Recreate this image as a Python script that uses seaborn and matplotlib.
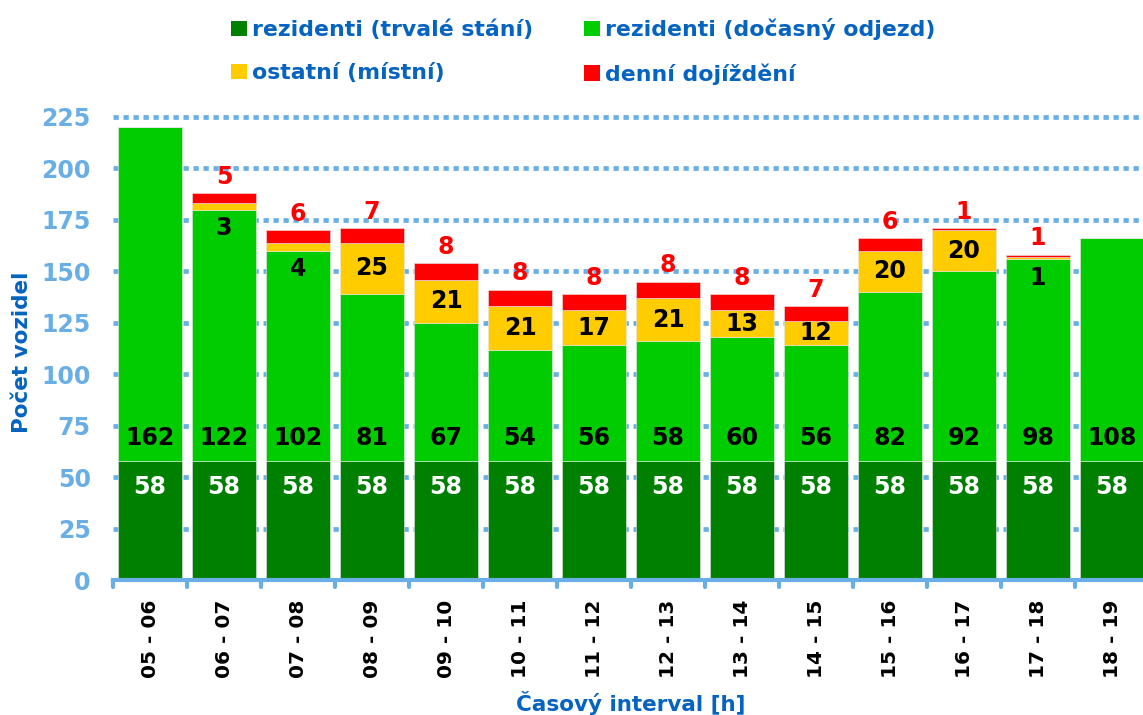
import matplotlib
matplotlib.use("Agg")
import matplotlib.pyplot as plt
import seaborn as sns
import numpy as np
import pandas as pd
from matplotlib.patches import Patch

categories = ["05 - 06", "06 - 07", "07 - 08", "08 - 09", "09 - 10", "10 - 11", "11 - 12",
              "12 - 13", "13 - 14", "14 - 15", "15 - 16", "16 - 17", "17 - 18", "18 - 19"]
rez_trvale = [58, 58, 58, 58, 58, 58, 58, 58, 58, 58, 58, 58, 58, 58]
rez_docasny = [162, 122, 102, 81, 67, 54, 56, 58, 60, 56, 82, 92, 98, 108]
ostatni = [0, 3, 4, 25, 21, 21, 17, 21, 13, 12, 20, 20, 1, 0]
denni = [0, 5, 6, 7, 8, 8, 8, 8, 8, 7, 6, 1, 1, 0]
series_names = ["rezidenti (trvalé stání)", "rezidenti (dočasný odjezd)",
                "ostatní (místní)", "denní dojíždění"]
yticks = [0, 25, 50, 75, 100, 125, 150, 175, 200, 225]

colors = ["#008000", "#00CC00", "#FFCC00", "#FF0000"]
BLUE = "#0563C1"
LIGHT = "#6AAEE6"

sns.set_theme(style="white")
plt.rcParams['font.family'] = ['DejaVu Sans']
plt.rcParams['font.weight'] = 'bold'
plt.rcParams['lines.scale_dashes'] = False

fig = plt.figure(figsize=(11.43, 7.15), dpi=100)
ax = fig.add_axes([113 / 1143, 1 - 580 / 715, (1149 - 113) / 1143, (580 - 117) / 715])

arrs = [np.array(rez_trvale), np.array(rez_docasny), np.array(ostatni), np.array(denni)]
bottom = np.zeros(len(categories))
for name, vals, col in zip(series_names, arrs, colors):
    df = pd.DataFrame({"cat": categories, "val": vals})
    sns.barplot(data=df, x="cat", y="val", order=categories, color=col, bottom=bottom,
                width=0.855, saturation=1, ax=ax, edgecolor="#e8e8e8", linewidth=0.4,
                zorder=3)
    bottom = bottom + vals

ax.set_xlim(-0.5, 13.5)
ax.set_ylim(0, 225)
ax.set_yticks(yticks)
ax.set_yticklabels([str(t) for t in yticks], color=LIGHT, fontsize=17, fontweight='bold')
for t in yticks[1:]:
    ax.axhline(t, color=LIGHT, linestyle=(0, (3.8, 3.4)), linewidth=3.4, zorder=1,
               clip_on=False, dash_capstyle='butt')
ax.tick_params(axis='y', length=0, pad=16)

ax.set_xticks(range(len(categories)))
ax.set_xticklabels(categories, rotation=90, fontsize=14.5, fontweight='bold', color='black')
ax.tick_params(axis='x', length=0, pad=14)
for b in np.arange(-0.5, 14.0, 1.0):
    ax.plot([b, b], [0, -3.2], color=LIGHT, linewidth=3, clip_on=False, zorder=4)

for s in ["top", "right", "left"]:
    ax.spines[s].set_visible(False)
ax.spines["bottom"].set_color(LIGHT)
ax.spines["bottom"].set_linewidth(3)
ax.spines["bottom"].set_zorder(5)

ax.set_xlabel("")
ax.set_ylabel("")
fig.text(631 / 1143, 1 - 703 / 715, "Časový interval [h]", ha='center', va='center',
         fontsize=15.5, fontweight='bold', color=BLUE)
fig.text(22 / 1143, 1 - 352 / 715, "Počet vozidel", ha='center', va='center', rotation=90,
         fontsize=15.5, fontweight='bold', color=BLUE)

# value labels
lab_fs = 17
r0, r1, r2, r3 = arrs
for i in range(len(categories)):
    ax.text(i, r0[i] - 13, str(r0[i]), ha='center', va='center', color='white',
            fontsize=lab_fs, fontweight='bold', zorder=6)
    ax.text(i, r0[i] + 11, str(r1[i]), ha='center', va='center', color='black',
            fontsize=lab_fs, fontweight='bold', zorder=6)
    gtop = r0[i] + r1[i]
    if r2[i] > 0:
        y = gtop + r2[i] / 2 if r2[i] >= 10 else gtop - 9
        ax.text(i, y, str(r2[i]), ha='center', va='center', color='black',
                fontsize=lab_fs, fontweight='bold', zorder=6)
    if r3[i] > 0:
        top = gtop + r2[i] + r3[i]
        ax.text(i, top + 8, str(r3[i]), ha='center', va='center', color='#FF0000',
                fontsize=lab_fs, fontweight='bold', zorder=6, clip_on=False)

# legend: row-wise order (2 columns)
order = [0, 2, 1, 3]
handles = [Patch(facecolor=colors[k], edgecolor='none') for k in order]
labels = [series_names[k] for k in order]
leg = fig.legend(handles, labels, loc='upper left', bbox_to_anchor=(231 / 1143, 1 - 18 / 715),
                 ncol=2, frameon=False, handlelength=0.72, handleheight=0.72,
                 handletextpad=0.25, columnspacing=2.3, labelspacing=1.05, borderpad=0,
                 borderaxespad=0, prop={'weight': 'bold', 'size': 15.8})
for t in leg.get_texts():
    t.set_color(BLUE)

fig.savefig("out.png", dpi=100)
